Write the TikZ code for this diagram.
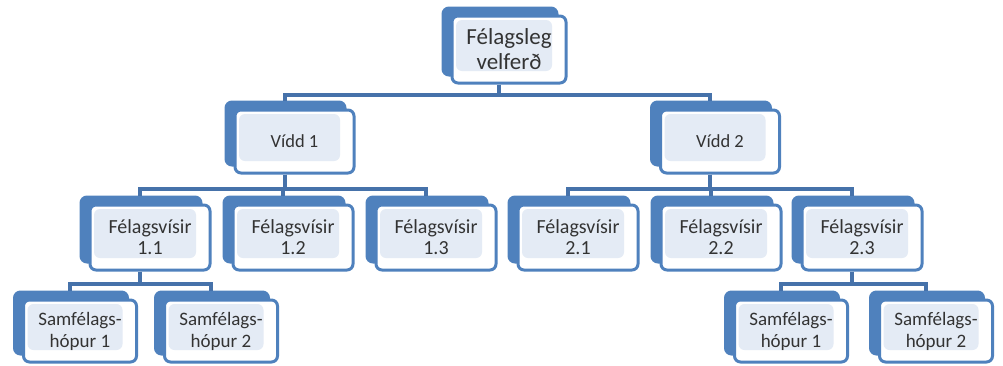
\documentclass[tikz,border=0pt]{standalone}
\usepackage{fontspec}
\setmainfont{Carlito}
\usetikzlibrary{shadows,positioning}
\definecolor{kblue}{HTML}{4F81BD}
\definecolor{kline}{HTML}{4672AA}
\definecolor{kpale}{HTML}{E4EBF5}
\definecolor{ktext}{HTML}{333333}
\tikzset{
  kassi/.style={draw=kblue,line width=3pt,rounded corners=6pt,fill=white,align=center,text=ktext,inner sep=0pt,
    copy shadow={shadow xshift=-9pt,shadow yshift=8pt,fill=kblue,draw=kblue},
    path picture={\fill[kpale] ([shift={(4pt,-4pt)}]path picture bounding box.north west) rectangle ([shift={(-14pt,12pt)}]path picture bounding box.south east);}},
  efst/.style={minimum width=114pt,minimum height=67pt,font=\fontsize{23}{25}\selectfont},
  vidd/.style={minimum width=119pt,minimum height=63pt,font=\fontsize{18.5}{22}\selectfont},
  visir/.style={minimum width=120pt,minimum height=65pt,font=\fontsize{20}{21}\selectfont},
  hopur/.style={minimum width=113pt,minimum height=62pt,font=\fontsize{19}{22}\selectfont},
  lnk/.style={draw=kline,line width=4pt}
}
\begin{document}
\begin{tikzpicture}[x=1pt,y=-1pt]
\useasboundingbox (0,0) rectangle (1003,365);
\node[kassi,efst] (top) at (509,49.5) {Félagsleg\\velferð};
\foreach \x [count=\n] in {294.5,720}
  \node[kassi,vidd] (V\n) at (\x,141.5) {Vídd \n};
\foreach \x/\t [count=\n] in {150/1.1,293/1.2,436/1.3,578/2.1,721/2.2,862/2.3}
  \node[kassi,visir] (F\n) at (\x,237.5) {Félagsvísir\\\t};
\foreach \x/\t [count=\n] in {80/1,221/2,791/1,936/2}
  \node[kassi,hopur] (S\n) at (\x,331) {Samfélags-\\hópur \t};

% tengingar
\foreach \c in {V1,V2}
  \draw[lnk] ([xshift=-10pt]top.south) -- ++(0,10) -| ([shift={(-10pt,8pt)}]\c.north);
\foreach \c in {F1,F2,F3}
  \draw[lnk] ([xshift=-10pt]V1.south) -- ++(0,14) -| ([shift={(-10pt,8pt)}]\c.north);
\foreach \c in {F4,F5,F6}
  \draw[lnk] ([xshift=-10pt]V2.south) -- ++(0,14) -| ([shift={(-10pt,8pt)}]\c.north);
\foreach \c in {S1,S2}
  \draw[lnk] ([xshift=-10pt]F1.south) -- ++(0,12) -| ([shift={(-10pt,8pt)}]\c.north);
\foreach \c in {S3,S4}
  \draw[lnk] ([xshift=-10pt]F6.south) -- ++(0,12) -| ([shift={(-10pt,8pt)}]\c.north);
\end{tikzpicture}
\end{document}
